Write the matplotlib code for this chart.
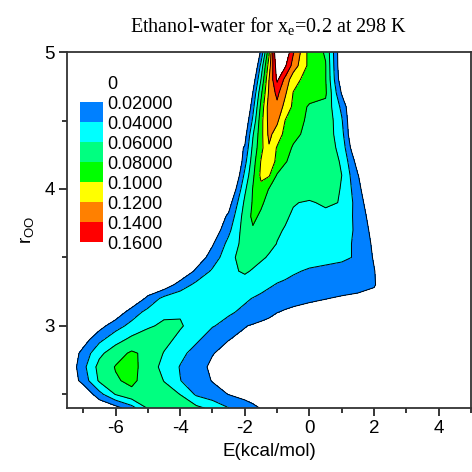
import matplotlib
matplotlib.use('Agg')
import matplotlib.pyplot as plt
from matplotlib.patches import Rectangle
from matplotlib.ticker import MultipleLocator

plt.rcParams['font.family'] = 'Liberation Sans'
plt.rcParams['axes.unicode_minus'] = False
plt.rcParams['mathtext.fontset'] = 'custom'
plt.rcParams['mathtext.rm'] = 'Liberation Serif'
plt.rcParams['mathtext.sf'] = 'Liberation Sans'

# grid of the pair distribution
energy = [-7.5, -7.0, -6.5, -6.0, -5.5, -5.0, -4.5, -4.0, -3.5, -3.0, -2.5, -2.0,
          -1.75, -1.5, -1.25, -1.0, -0.75, -0.5, 0.0, 0.5, 1.0, 1.5, 2.0, 2.5]
r_oo = [2.4, 2.5, 2.6, 2.7, 2.8, 2.9, 3.0, 3.1, 3.2, 3.3, 3.4, 3.5, 3.6, 3.7,
        3.8, 3.9, 4.0, 4.1, 4.2, 4.3, 4.4, 4.5, 4.6, 4.7, 4.8, 4.9, 5.0]

density = [
    [0, 0, 0, .012, .032, .062, .068, .068, .065, .055, .0405, .030, .0245, .019, .015, .012, .009, .007, .004, .002, .001, 0, 0, 0],
    [0, 0, .033, .061, .075, .071, .066, .0598, .037, .028, .0195, .013, .010, .008, .006, .004, .002, .001, 0, 0, 0, 0, 0, 0],
    [0, .028, .063, .078, .084, .072, .0595, .0405, .030, .019, .012, .007, .005, .004, .003, .002, .001, 0, 0, 0, 0, 0, 0, 0],
    [0, .034, .067, .081, .086, .071, .054, .039, .028, .016, .010, .006, .004, .003, .002, .001, 0, 0, 0, 0, 0, 0, 0, 0],
    [0, .027, .055, .072, .083, .075, .059, .045, .033, .021, .013, .009, .007, .006, .004, .003, .002, .001, 0, 0, 0, 0, 0, 0],
    [0, .010, .035, .052, .065, .072, .066, .055, .043, .031, .0205, .015, .013, .010, .008, .006, .005, .004, .002, .001, 0, 0, 0, 0],
    [0, 0, .012, .032, .046, .057, .064, .062, .052, .041, .035, .021, .018, .015, .012, .009, .007, .005, .003, .002, .001, 0, 0, 0],
    [0, 0, 0, .005, .030, .046, .055, .058, .055, .048, .042, .037, .034, .030, .026, .0205, .018, .016, .013, .011, .009, .007, .004, 0],
    [0, 0, 0, 0, 0, .025, .046, .053, .052, .049, .046, .042, .0395, .037, .034, .031, .028, .026, .023, .0205, .018, .016, .012, 0],
    [0, 0, 0, 0, 0, 0, .0065, .029, .045, .050, .052, .050, .048, .045, .042, .039, .037, .035, .032, .030, .028, .026, .022, 0],
    [0, 0, 0, 0, 0, 0, 0, 0, .024, .043, .055, .063, .058, .053, .050, .047, .045, .042, .038, .036, .034, .031, .021, 0],
    [0, 0, 0, 0, 0, 0, 0, 0, .0065, .029, .053, .070, .068, .063, .058, .055, .052, .050, .047, .045, .043, .038, .018, 0],
    [0, 0, 0, 0, 0, 0, 0, 0, 0, .018, .046, .068, .073, .070, .065, .0595, .057, .054, .050, .047, .046, .036, .016, 0],
    [0, 0, 0, 0, 0, 0, 0, 0, 0, .005, .035, .070, .078, .073, .067, .062, .059, .055, .051, .050, .049, .036, .012, 0],
    [0, 0, 0, 0, 0, 0, 0, 0, 0, 0, .024, .069, .084, .077, .070, .066, .062, .058, .054, .055, .052, .034, .007, 0],
    [0, 0, 0, 0, 0, 0, 0, 0, 0, 0, .010, .064, .082, .083, .074, .068, .064, .061, .058, .063, .059, .031, 0, 0],
    [0, 0, 0, 0, 0, 0, 0, 0, 0, 0, -.010, .056, .081, .095, .079, .074, .072, .071, .070, .068, .059, .027, -.010, 0],
    [0, 0, 0, 0, 0, 0, 0, 0, 0, 0, -.030, .045, .076, .104, .102, .078, .074, .073, .072, .070, .060, .021, -.010, 0],
    [0, 0, 0, 0, 0, 0, 0, 0, 0, 0, -.040, .033, .071, .101, .110, .096, .081, .076, .073, .071, .058, .010, 0, 0],
    [0, 0, 0, 0, 0, 0, 0, 0, 0, 0, 0, .022, .065, .094, .118, .098, .087, .078, .074, .072, .053, -.008, 0, 0],
    [0, 0, 0, 0, 0, 0, 0, 0, 0, 0, 0, .011, .058, .093, .125, .111, .094, .085, .074, .073, .047, -.020, 0, 0],
    [0, 0, 0, 0, 0, 0, 0, 0, 0, 0, 0, 0, .044, .092, .127, .124, .0995, .091, .075, .076, .042, -.020, 0, 0],
    [0, 0, 0, 0, 0, 0, 0, 0, 0, 0, 0, -.015, .033, .085, .130, .135, .113, .096, .077, .075, .035, -.020, 0, 0],
    [0, 0, 0, 0, 0, 0, 0, 0, 0, 0, 0, -.020, .021, .075, .124, .145, .123, .099, .090, .083, .018, 0, 0, 0],
    [0, 0, 0, 0, 0, 0, 0, 0, 0, 0, 0, 0, .006, .060, .120, .164, .134, .108, .090, .081, .005, 0, 0, 0],
    [0, 0, 0, 0, 0, 0, 0, 0, 0, 0, 0, 0, -.015, .046, .110, .173, .163, .131, .094, .081, 0, 0, 0, 0],
    [0, 0, 0, 0, 0, 0, 0, 0, 0, 0, 0, 0, 0, .022, .096, .190, .180, .142, .092, .078, 0, 0, 0, 0],
]

levels = [0.02, 0.04, 0.06, 0.08, 0.10, 0.12, 0.14, 0.16]
level_labels = ['0', '0.02000', '0.04000', '0.06000', '0.08000',
                '0.1000', '0.1200', '0.1400', '0.1600']
fill_colors = ['#0080ff', '#00ffff', '#00ff80', '#00ff00',
               '#ffff00', '#ff8000', '#ff0000']

fig = plt.figure(figsize=(4.72, 4.72), dpi=100)
ax = fig.add_axes([0.142, 0.1356, 0.856, 0.754])

ax.contourf(energy, r_oo, density, levels=levels, colors=fill_colors)
ax.contour(energy, r_oo, density, levels=levels, colors='black', linewidths=0.7)

ax.set_xlim(-7.5, 5)
ax.set_ylim(2.4, 5)
ax.xaxis.set_major_locator(MultipleLocator(2))
ax.xaxis.set_minor_locator(MultipleLocator(1))
ax.yaxis.set_major_locator(MultipleLocator(1))
ax.yaxis.set_minor_locator(MultipleLocator(0.5))
ax.tick_params(which='major', direction='out', length=6, width=1.1, labelsize=13.5, pad=3)
ax.tick_params(which='minor', direction='out', length=3.5, width=1.1)
for s in ax.spines.values():
    s.set_linewidth(1.3)
    s.set_color('#333333')

ax.set_xlabel('E(kcal/mol)', fontsize=13.5, labelpad=4)
ax.set_ylabel(r'$\mathsf{r_{OO}}$', fontsize=13.5, labelpad=6)
ax.set_title(r'Ethanol-water for x$_\mathrm{e}$=0.2 at 298 K',
             fontfamily='Liberation Serif', fontsize=14.5, pad=14)

# Origin style level legend in the upper left corner
box_h = 20 / 356
for k, c in enumerate(fill_colors):
    top = 1 - (50 + 20 * k) / 356
    ax.add_patch(Rectangle((0.032, top - box_h), 0.057, box_h, transform=ax.transAxes,
                           facecolor=c, edgecolor='none'))
for j, lab in enumerate(level_labels):
    ax.text(0.1, 1 - (32 + 20 * j) / 356, lab, transform=ax.transAxes,
            fontsize=13, va='center', ha='left')

fig.savefig('out.png', dpi=100)
